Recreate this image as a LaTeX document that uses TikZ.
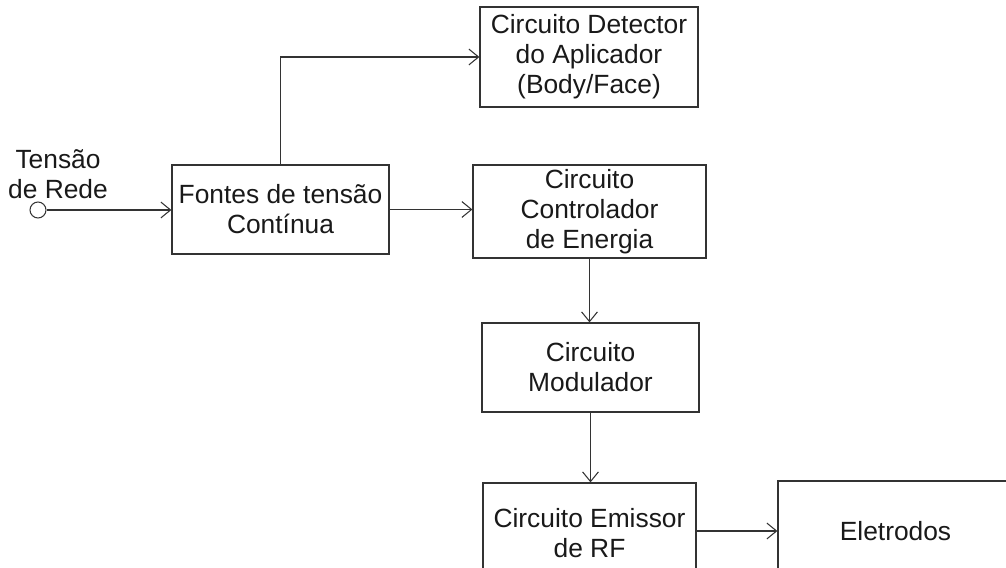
\documentclass[tikz,border=0pt]{standalone}
\usepackage{fontspec}
\setmainfont{Liberation Sans}
\usetikzlibrary{arrows.meta}

\tikzset{
  bloco/.style={draw=black!80, line width=0.7pt, align=center, text=black!90,
    font=\fontsize{15}{17}\selectfont, inner sep=0pt},
  liga/.style={draw=black!80, line width=0.7pt,
    -{Straight Barb[length=5.5pt, width=9pt, line width=0.6pt]}},
}

\begin{document}
\begin{tikzpicture}
\useasboundingbox (0,0) rectangle (20.12,11.34);

\node[bloco, minimum width=4.36cm, minimum height=2.00cm] (detetor) at (11.78,10.20) {Circuito Detector\\do Aplicador\\(Body/Face)};
\node[bloco, minimum width=4.34cm, minimum height=1.78cm] (fontes) at (5.61,7.15) {Fontes de tensão\\Contínua};
\node[bloco, minimum width=4.66cm, minimum height=1.86cm] (controle) at (11.79,7.11) {Circuito\\Controlador\\de Energia};
\node[bloco, minimum width=4.34cm, minimum height=1.78cm] (modulador) at (11.81,3.99) {Circuito\\Modulador};
\node[bloco, minimum width=4.26cm, minimum height=2.00cm] (emissor) at (11.79,0.68) {Circuito Emissor\\de RF};
\node[bloco, minimum width=4.70cm, minimum height=2.00cm] (eletrodos) at (17.91,0.72) {Eletrodos};

%entrada da rede
\node[draw=black!80, line width=0.6pt, circle, minimum size=0.32cm, inner sep=0pt] (rede) at (0.76,7.14) {};
\node[align=center, text=black!90, font=\fontsize{15}{17}\selectfont] (rotulo) at (1.16,7.86) {Tensão\\de Rede};

\draw[liga] (rede.east) -- (rede.east -| fontes.west);
\draw[liga] (fontes.north) |- (detetor.west);
\draw[liga] (fontes.east) -- (fontes.east -| controle.west);
\draw[liga] (controle.south) -- (controle.south |- modulador.north);
\draw[liga] (modulador.south) -- (modulador.south |- emissor.north);
\draw[liga] (emissor.east |- eletrodos.west) -- (eletrodos.west);
\end{tikzpicture}
\end{document}
